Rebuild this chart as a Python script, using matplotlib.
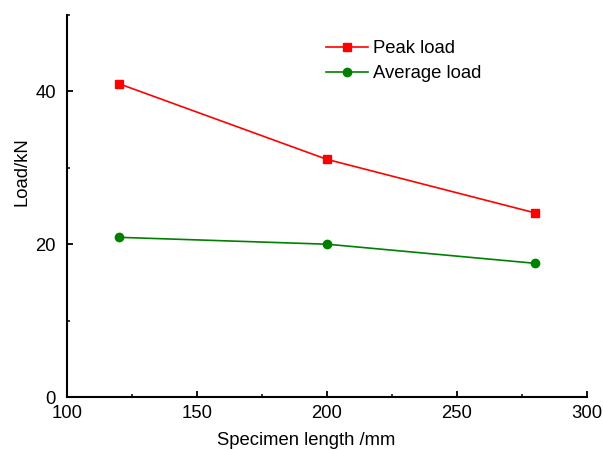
import matplotlib
matplotlib.use('Agg')
import matplotlib.pyplot as plt
from matplotlib.ticker import MultipleLocator

plt.rcParams['font.family'] = ['Liberation Sans', 'DejaVu Sans']

# Data
lengths = [120, 200, 280]
peak_load = [41.0, 31.1, 24.1]
average_load = [20.9, 20.0, 17.5]

fig = plt.figure(figsize=(6.03, 4.5), dpi=100)
ax = fig.add_axes([67 / 603, 1 - 397 / 450, 520 / 603, 382 / 450])

ax.plot(lengths, peak_load, color='#ff0000', lw=1.2, marker='s', markersize=6,
        label='Peak load')
ax.plot(lengths, average_load, color='#008000', lw=1.2, marker='o', markersize=6,
        label='Average load')

ax.set_xlim(100, 300)
ax.set_ylim(0, 50)
ax.xaxis.set_major_locator(MultipleLocator(50))
ax.xaxis.set_minor_locator(MultipleLocator(25))
ax.yaxis.set_major_locator(MultipleLocator(20))
ax.yaxis.set_minor_locator(MultipleLocator(10))

for side in ['top', 'right']:
    ax.spines[side].set_visible(False)
for side in ['left', 'bottom']:
    ax.spines[side].set_linewidth(1.5)

ax.tick_params(which='major', direction='in', length=4, width=1.3,
               labelsize=13.3, pad=6)
ax.tick_params(which='minor', direction='in', length=2.5, width=1.1)
ax.tick_params(axis='y', which='major', pad=8)

ax.text(0.46, -0.1126, 'Specimen length /mm', transform=ax.transAxes,
        ha='center', va='center', fontsize=13.3)
ax.text(-0.0865, 0.589, 'Load/kN', transform=ax.transAxes,
        ha='center', va='center', rotation=90, fontsize=13.3)

ax.legend(loc='upper left', bbox_to_anchor=(326 / 603, 1 - 40 / 450),
          bbox_transform=fig.transFigure, frameon=False, fontsize=13.3,
          borderpad=0, borderaxespad=0, handlelength=2.3, handletextpad=0.25,
          labelspacing=0.45)

fig.savefig('out.png', dpi=100)
